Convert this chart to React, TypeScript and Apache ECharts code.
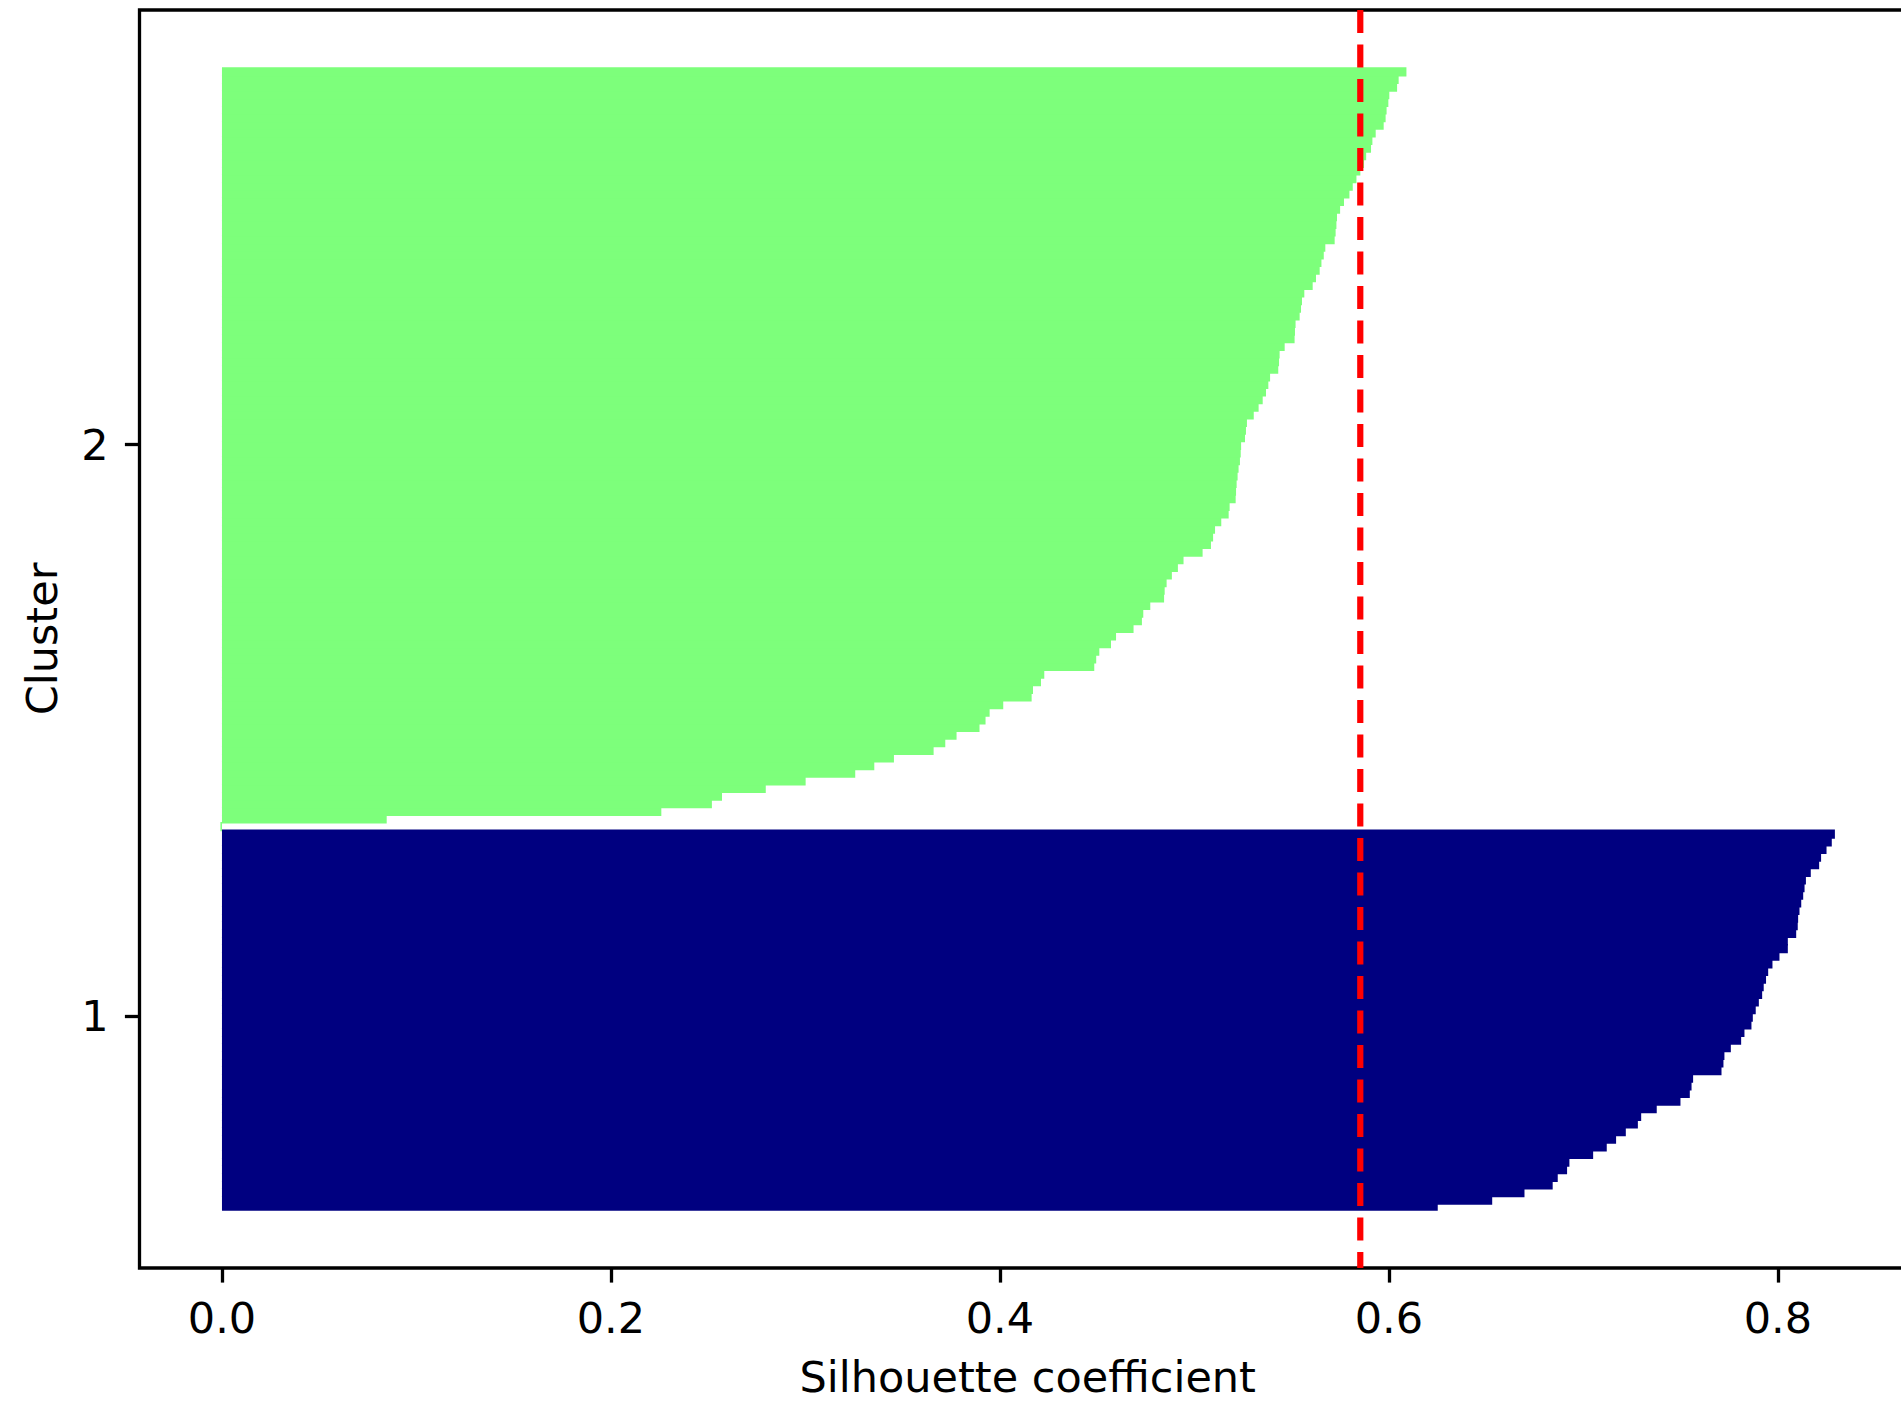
import React, { useEffect, useRef } from "react";
import * as echarts from "echarts";

// Silhouette values per cluster (sorted ascending)
const cluster1Values = [
  0.6251, 0.6531, 0.6697, 0.6842, 0.6868, 0.6916, 0.6928, 0.705, 0.712, 0.7168,
  0.7218, 0.728, 0.7297, 0.7377, 0.7499, 0.7547, 0.7556, 0.7564, 0.771, 0.772,
  0.7725, 0.7758, 0.7811, 0.7828, 0.7864, 0.7871, 0.7886, 0.7902, 0.7919, 0.7927,
  0.7939, 0.795, 0.7972, 0.8008, 0.8051, 0.8051, 0.8094, 0.8102, 0.8104, 0.8111,
  0.812, 0.813, 0.8137, 0.8144, 0.8169, 0.8212, 0.8222, 0.825, 0.8277, 0.8293,
];
const cluster2Values = [
  -0.0008, 0.0847, 0.2259, 0.2519, 0.2571, 0.2796, 0.3001, 0.3256, 0.3354, 0.3455,
  0.3659, 0.3719, 0.3777, 0.3895, 0.3926, 0.3947, 0.4017, 0.4163, 0.417, 0.4211,
  0.4228, 0.4485, 0.4495, 0.4511, 0.4571, 0.4597, 0.4687, 0.473, 0.4737, 0.4773,
  0.4844, 0.4847, 0.4857, 0.4884, 0.4915, 0.4944, 0.5042, 0.5085, 0.5096, 0.5106,
  0.5138, 0.5176, 0.5181, 0.5212, 0.5214, 0.5217, 0.5222, 0.5227, 0.5234, 0.5238,
  0.524, 0.526, 0.5265, 0.527, 0.5305, 0.533, 0.5351, 0.5368, 0.538, 0.5389,
  0.5431, 0.5435, 0.5438, 0.5464, 0.5515, 0.5517, 0.552, 0.5541, 0.5548, 0.5553,
  0.5565, 0.5608, 0.5625, 0.5644, 0.5653, 0.5665, 0.5673, 0.5721, 0.5726, 0.573,
  0.5733, 0.5749, 0.5769, 0.5797, 0.5814, 0.5833, 0.5853, 0.5872, 0.5883, 0.5908,
  0.5915, 0.5932, 0.5973, 0.5983, 0.5988, 0.5997, 0.6002, 0.6042, 0.605, 0.609,
];
const clusterLabels = ["1", "2"];
const clusterColors = ["#000080", "#7dff7b"];
const xTickValues = [0, 0.2, 0.4, 0.6, 0.8];

export default function App() {
  const ref = useRef<HTMLDivElement>(null);

  useEffect(() => {
    if (!ref.current) return;
    const chart = echarts.init(ref.current, null, { renderer: "svg" });

    const clusters = [cluster1Values, cluster2Values];
    const data: number[][] = [];
    const yTicks: number[] = [];
    let lower = 0;
    clusters.forEach((vals, c) => {
      const upper = lower + vals.length;
      vals.forEach((v, k) => data.push([lower + k, v, c]));
      yTicks.push((lower + upper) / 2);
      lower = upper;
    });
    const all = clusters.flat();
    const avg = all.reduce((a, b) => a + b, 0) / all.length;
    const n = all.length;
    const yMin = -8;
    const yMax = n - 1 + 8;

    const font = "DejaVu Sans";
    const fs = 43;

    chart.setOption({
      animation: false,
      backgroundColor: "#ffffff",
      grid: {
        left: 139.5,
        top: 10,
        right: 2,
        bottom: 134,
        containLabel: false,
        outerBoundsMode: "none",
        show: true,
        borderColor: "#000",
        borderWidth: 3.3,
        backgroundColor: "transparent",
      },
      xAxis: {
        type: "value",
        min: -0.0424,
        max: 0.871,
        name: "Silhouette coefficient",
        nameLocation: "middle",
        nameGap: 87,
        nameTextStyle: { fontFamily: font, fontSize: fs, color: "#000", lineHeight: 43 },
        axisLine: { show: false, onZero: false },
        splitLine: { show: false },
        axisTick: {
          show: true,
          length: 14.6,
          customValues: xTickValues,
          lineStyle: { color: "#000", width: 3.3 },
        },
        axisLabel: {
          customValues: xTickValues,
          margin: 28,
          fontFamily: font,
          fontSize: fs,
          color: "#000",
          formatter: (v: number) => v.toFixed(1),
        },
      },
      yAxis: {
        type: "value",
        min: yMin,
        max: yMax,
        name: "Cluster",
        nameLocation: "middle",
        nameGap: 76,
        nameRotate: 90,
        nameTextStyle: { fontFamily: font, fontSize: fs, color: "#000" },
        axisLine: { show: false, onZero: false },
        splitLine: { show: false },
        axisTick: {
          show: true,
          length: 14.6,
          customValues: yTicks,
          lineStyle: { color: "#000", width: 3.3 },
        },
        axisLabel: {
          customValues: yTicks,
          margin: 31,
          fontFamily: font,
          fontSize: fs,
          color: "#000",
          formatter: (v: number) => {
            const i = yTicks.findIndex((t) => Math.abs(t - v) < 1e-6);
            return i >= 0 ? clusterLabels[i] : "";
          },
        },
      },
      series: [
        {
          type: "custom",
          clip: true,
          encode: { x: 1, y: 0 },
          data,
          renderItem: (_params: any, api: any) => {
            const idx = api.value(0);
            const v = api.value(1);
            const c = api.value(2);
            const a = api.coord([0, idx + 0.5]);
            const b = api.coord([v, idx - 0.5]);
            const first = idx === 0;
            return {
              type: "rect",
              shape: {
                x: Math.min(a[0], b[0]),
                y: a[1],
                width: Math.max(Math.abs(b[0] - a[0]), 1.2),
                height: b[1] - a[1] + (first ? 0 : 1.6),
              },
              style: { fill: clusterColors[c] },
            };
          },
        },
        {
          // mean silhouette value (vertical dashed line)
          type: "line",
          silent: true,
          symbol: "none",
          z: 10,
          lineStyle: { color: "#ff0000", width: 6.2, type: [23, 11.5], cap: "butt" },
          data: [
            [avg, yMax],
            [avg, yMin],
          ],
        },
      ],
    });

    return () => chart.dispose();
  }, []);

  return (
    <div
      style={{
        position: "absolute",
        left: 0,
        top: 0,
        width: 1901,
        height: 1402,
        overflow: "hidden",
        background: "#fff",
      }}
    >
      <div ref={ref} style={{ width: 1918, height: 1402 }} />
    </div>
  );
}
